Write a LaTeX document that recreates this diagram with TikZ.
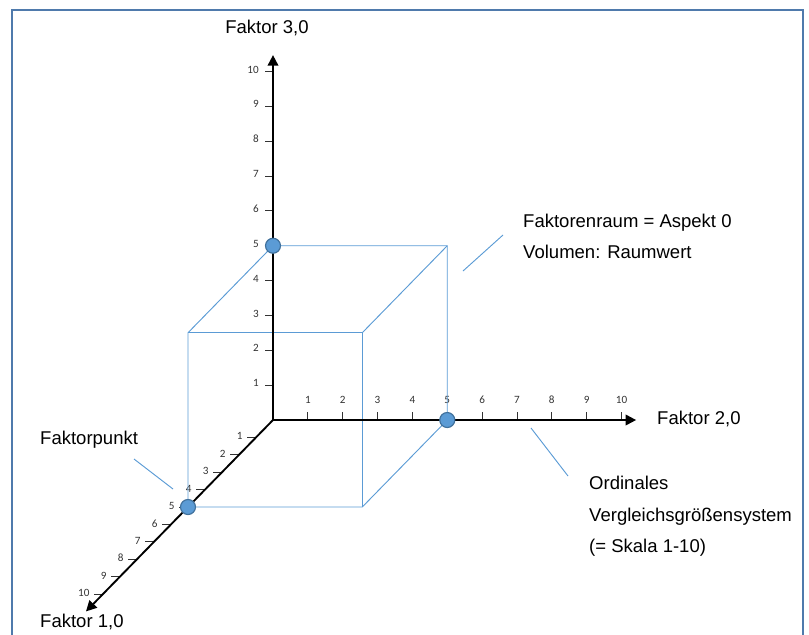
\documentclass[tikz,border=0pt]{standalone}
\usepackage{fontspec}
\setmainfont{Liberation Sans}
\newfontfamily\zahlfont{Carlito}
\usetikzlibrary{arrows.meta}

\definecolor{kantenblau}{RGB}{91,155,213}
\definecolor{punktrand}{RGB}{65,113,156}
\definecolor{rahmenblau}{RGB}{79,122,172}

\tikzset{
  achse/.style={line width=1.6pt, -{Triangle[length=9pt,width=9pt]}},
  kante/.style={draw=kantenblau, line width=0.8pt},
  punkt/.style={circle, fill=kantenblau, draw=punktrand, line width=1pt,
    minimum size=0.45cm, inner sep=0pt},
  marke/.style={line width=0.7pt, black!80},
  zahl/.style={font=\zahlfont\fontsize{9.5}{10}\selectfont, text=black!80, inner sep=0pt},
  beschriftung/.style={font=\fontsize{15.8}{19}\selectfont, anchor=base west, inner sep=0pt}
}

\begin{document}
\begin{tikzpicture}[x=0.03cm, y=-0.03cm]

\useasboundingbox (0,0) rectangle (809,634);
\clip (0,0) rectangle (809,634);

% Rahmen
\draw[rahmenblau, line width=2.2pt] (12,10) rectangle (803,660);

% Achsen und Wuerfel
\begin{scope}[shift={(273,420)}, x={(-0.51cm,-0.522cm)}, y={(1.0455cm,0cm)}, z={(0cm,1.0455cm)}]

\coordinate (O) at (0,0,0);
\coordinate (E1) at (11,0,0);
\coordinate (E2) at (0,10.42,0);
\coordinate (E3) at (0,0,10.47);

% Skalen
\foreach \k in {1,...,10}
{
\draw[marke] (\k,0,0) -- ++(-0.27cm,0cm);
\node[zahl, anchor=east, xshift=-0.4cm, yshift=0.03cm] (z1-\k) at (\k,0,0) {\k};

\draw[marke] (0,\k,0) -- ++(0cm,0.24cm);
\node[zahl, yshift=0.6cm] (z2-\k) at (0,\k,0) {\k};

\draw[marke] (0,0,\k) -- ++(-0.24cm,0cm);
\node[zahl, anchor=east, xshift=-0.42cm, yshift=0.06cm] (z3-\k) at (0,0,\k) {\k};
}

% Wuerfel
\coordinate (v100) at (5,0,0);
\coordinate (v010) at (0,5,0);
\coordinate (v001) at (0,0,5);
\coordinate (v110) at (5,5,0);
\coordinate (v101) at (5,0,5);
\coordinate (v011) at (0,5,5);
\coordinate (v111) at (5,5,5);

\draw[kante] (v001) -- (v011) -- (v010) -- (v110) -- (v100) -- (v101) -- (v001);
\draw[kante] (v101) -- (v111) -- (v110);
\draw[kante] (v111) -- (v011);

\draw[achse] (O) -- (E1);
\draw[achse] (O) -- (E2);
\draw[achse] (O) -- (E3);

\node[punkt] (p1) at (v100) {};
\node[punkt] (p2) at (v010) {};
\node[punkt] (p3) at (v001) {};

\end{scope}

% Beschriftungen
\node[beschriftung, anchor=base] (f3) at (267,33) {Faktor 3,0};
\node[beschriftung] (f2) at (657,424) {Faktor 2,0};
\node[beschriftung] (f1) at (40,627) {Faktor 1,0};

\node[beschriftung] (fpunkt) at (40,444) {Faktorpunkt};
\node[beschriftung] (fraum) at (523,227) {Faktorenraum = Aspekt 0};
\node[beschriftung] (volumen) at (523,258) {Volumen: Raumwert};
\node[beschriftung] (ordinal) at (589,489) {Ordinales};
\node[beschriftung] (vergleich) at (589,521) {Vergleichsgrößensystem};
\node[beschriftung] (skala) at (589,552) {(= Skala 1-10)};

% Hinweislinien
\coordinate (h1a) at (134,459);
\coordinate (h1b) at (173,489);
\coordinate (h2a) at (503,235);
\coordinate (h2b) at (463,271);
\coordinate (h3a) at (531,428);
\coordinate (h3b) at (568,476);

\draw[kante] (h1a) -- (h1b);
\draw[kante] (h2a) -- (h2b);
\draw[kante] (h3a) -- (h3b);

\end{tikzpicture}
\end{document}
